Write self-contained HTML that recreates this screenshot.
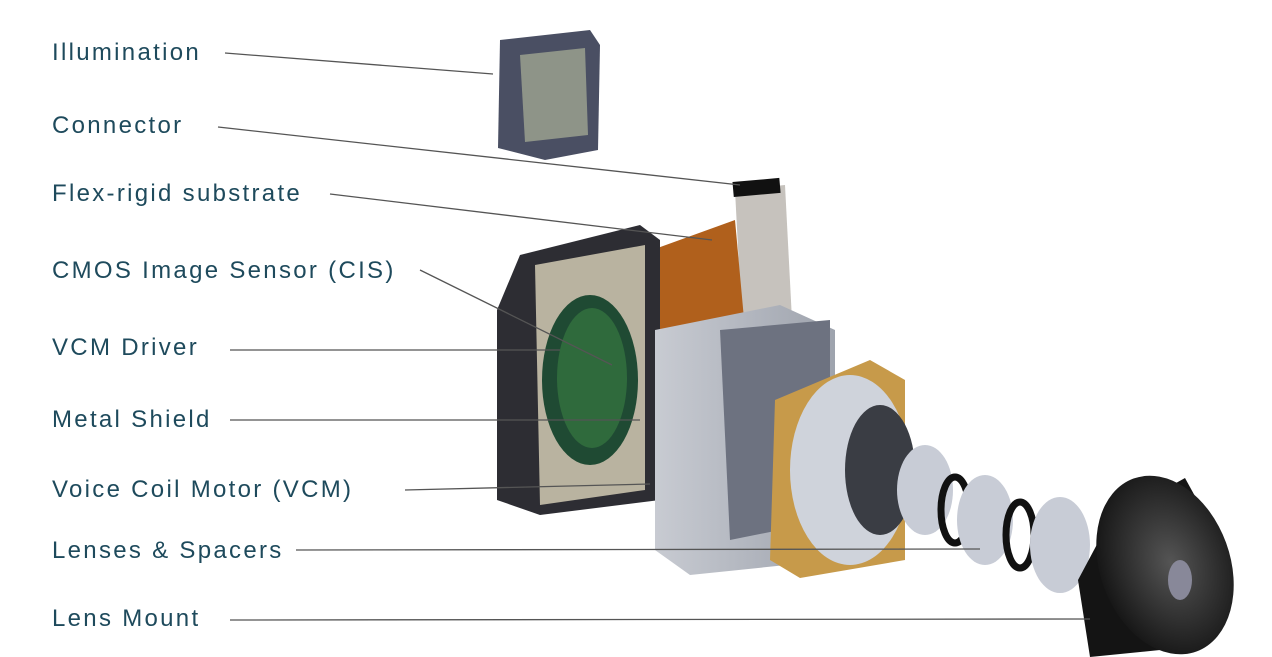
<!DOCTYPE html>
<html><head><meta charset="utf-8"><style>
html,body{margin:0;padding:0;background:#fff;}
.wrap{position:relative;width:1272px;height:657px;overflow:hidden;background:#fff;}
.lbl{position:absolute;left:52px;font-family:"Liberation Sans",sans-serif;font-size:24px;letter-spacing:2.3px;color:#1e4a5c;white-space:nowrap;line-height:1;}
svg{position:absolute;left:0;top:0;}
</style></head><body><div class="wrap">
<svg width="1272" height="657" viewBox="0 0 1272 657">
<defs>
<radialGradient id="lm" cx="0.55" cy="0.5" r="0.6"><stop offset="0" stop-color="#555"/><stop offset="1" stop-color="#111"/></radialGradient>
<linearGradient id="box" x1="0" x2="1"><stop offset="0" stop-color="#c8cbd2"/><stop offset="1" stop-color="#9ea3ad"/></linearGradient>
</defs>
<polygon points="500,40 590,30 600,45 598,150 545,160 498,148" fill="#4a4f63"/>
<polygon points="520,55 585,48 588,135 525,142" fill="#8e9488"/>
<polygon points="735,190 785,185 792,320 742,325" fill="#c6c2bd"/>
<polygon points="652,250 735,220 745,330 660,360" fill="#b0601c"/>
<rect x="733" y="180" width="47" height="15" fill="#111" transform="rotate(-5 756 187)"/>
<polygon points="520,255 640,225 660,240 660,500 540,515 497,500 497,310" fill="#2d2d33"/>
<polygon points="535,265 645,245 645,490 540,505" fill="#b9b3a0"/>
<ellipse cx="590" cy="380" rx="48" ry="85" fill="#1f4a33"/>
<ellipse cx="592" cy="378" rx="35" ry="70" fill="#2f6a3c"/>
<polygon points="655,330 780,305 835,330 835,560 690,575 655,550" fill="url(#box)"/>
<polygon points="720,330 830,320 830,520 730,540" fill="#6d7280"/>
<polygon points="775,400 870,360 905,380 905,560 800,578 770,560" fill="#c79a4a"/>
<ellipse cx="850" cy="470" rx="60" ry="95" fill="#cfd3db"/>
<ellipse cx="880" cy="470" rx="35" ry="65" fill="#3a3d44"/>
<ellipse cx="925" cy="490" rx="28" ry="45" fill="#c8ccd6"/>
<ellipse cx="955" cy="510" rx="14" ry="33" fill="none" stroke="#111" stroke-width="7"/>
<ellipse cx="985" cy="520" rx="28" ry="45" fill="#c8ccd6"/>
<ellipse cx="1020" cy="535" rx="14" ry="33" fill="none" stroke="#111" stroke-width="7"/>
<ellipse cx="1060" cy="545" rx="30" ry="48" fill="#c8ccd6"/>
<path d="M1110,520 L1185,478 L1230,560 L1160,650 L1090,657 L1078,580 Z" fill="#141414"/>
<ellipse cx="1165" cy="565" rx="65" ry="92" fill="url(#lm)" transform="rotate(-20 1165 565)"/>
<ellipse cx="1180" cy="580" rx="12" ry="20" fill="#889"/>
<g stroke="#555" stroke-width="1.3" fill="none">
<line x1="225" y1="53" x2="493" y2="74"/>
<line x1="218" y1="127" x2="740" y2="185"/>
<line x1="330" y1="194" x2="712" y2="240"/>
<line x1="420" y1="270" x2="612" y2="365"/>
<line x1="230" y1="350" x2="560" y2="350"/>
<line x1="230" y1="420" x2="640" y2="420"/>
<line x1="405" y1="490" x2="650" y2="484"/>
<line x1="296" y1="550" x2="980" y2="549"/>
<line x1="230" y1="620" x2="1090" y2="619"/>
</g>
</svg>
<div class="lbl" style="top:41px">Illumination</div>
<div class="lbl" style="top:114px">Connector</div>
<div class="lbl" style="top:182px">Flex-rigid substrate</div>
<div class="lbl" style="top:259px">CMOS Image Sensor (CIS)</div>
<div class="lbl" style="top:336px">VCM Driver</div>
<div class="lbl" style="top:408px">Metal Shield</div>
<div class="lbl" style="top:478px">Voice Coil Motor (VCM)</div>
<div class="lbl" style="top:539px">Lenses &amp; Spacers</div>
<div class="lbl" style="top:607px">Lens Mount</div>
</div></body></html>
